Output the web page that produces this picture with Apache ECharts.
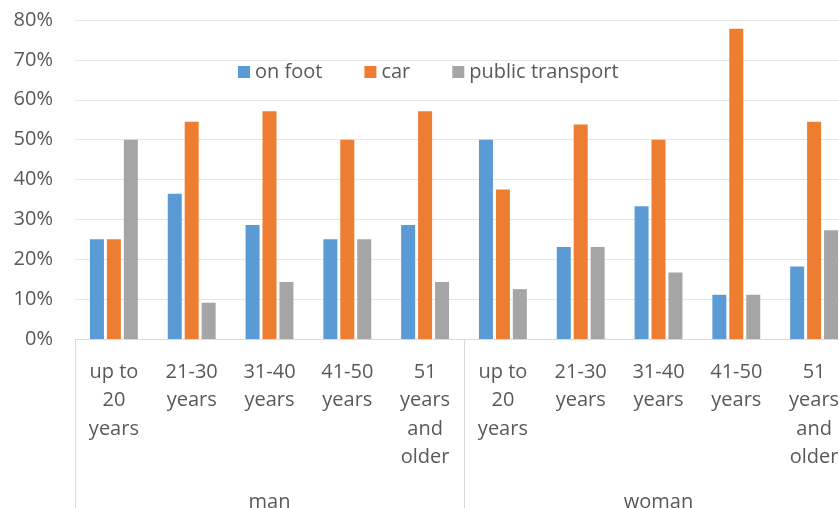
<!DOCTYPE html>
<html>
<head>
<meta charset="utf-8">
<script src="https://cdn.jsdelivr.net/npm/echarts@6/dist/echarts.min.js"></script>
<style>
  html, body { margin: 0; padding: 0; background: #fff; }
  #main { width: 839px; height: 508px; }
</style>
</head>
<body>
<div id="main"></div>
<script>
// age groups, repeated for man / woman
var ageGroups = ['up to\n20\nyears', '21-30\nyears', '31-40\nyears', '41-50\nyears', '51\nyears\nand\nolder',
                 'up to\n20\nyears', '21-30\nyears', '31-40\nyears', '41-50\nyears', '51\nyears\nand\nolder'];
var genders = ['man', 'woman'];
var seriesNames = ['on foot', 'car', 'public transport'];

// percent values
var onFoot = [25, 36.4, 28.6, 25, 28.6, 50, 23.1, 33.3, 11.1, 18.2];
var car = [25, 54.5, 57.1, 50, 57.1, 37.5, 53.8, 50, 77.8, 54.5];
var publicTransport = [50, 9.1, 14.3, 25, 14.3, 12.5, 23.1, 16.7, 11.1, 27.3];

var colors = ['#5B9BD5', '#ED7D31', '#A5A5A5'];
var textColor = '#595959';
var fontFam = '"Open Sans", "Noto Sans", sans-serif';

var myChart = echarts.init(document.getElementById('main'));

function barSeries(name, data, idx) {
    return {
        name: name,
        type: 'bar',
        xAxisIndex: 0,
        barWidth: 14,
        barGap: '21%',
        itemStyle: { color: colors[idx] },
        data: data
    };
}

var option = {
    backgroundColor: '#fff',
    animation: false,
    textStyle: { fontFamily: fontFam },
    legend: {
        data: seriesNames,
        left: 233,
        top: 57,
        icon: 'rect',
        itemWidth: 12,
        itemHeight: 12,
        itemGap: 42,
        textStyle: { fontSize: 20, color: textColor, fontFamily: fontFam }
    },
    grid: {
        left: 75,
        top: 20,
        right: -14,
        height: 319,
        outerBoundsMode: 'none'
    },
    xAxis: [{
        type: 'category',
        data: ageGroups,
        axisLine: { lineStyle: { color: '#D9D9D9' } },
        axisTick: { show: false },
        axisLabel: {
            interval: 0,
            margin: 19,
            fontSize: 20,
            lineHeight: 28.5,
            color: textColor,
            fontFamily: fontFam
        }
    }, {
        type: 'category',
        data: genders,
        position: 'bottom',
        axisLine: { show: false },
        axisTick: {
            show: true,
            interval: 0,
            length: 170,
            lineStyle: { color: '#D9D9D9' }
        },
        axisLabel: {
            margin: 153,
            fontSize: 20,
            color: textColor,
            fontFamily: fontFam
        }
    }],
    yAxis: {
        type: 'value',
        min: 0,
        max: 80,
        interval: 10,
        axisLine: { show: false },
        axisTick: { show: false },
        axisLabel: {
            formatter: '{value}%',
            margin: 22,
            fontSize: 20,
            color: textColor,
            fontFamily: fontFam
        },
        splitLine: { lineStyle: { color: '#E6E6E6' } }
    },
    series: [
        barSeries(seriesNames[0], onFoot, 0),
        barSeries(seriesNames[1], car, 1),
        barSeries(seriesNames[2], publicTransport, 2)
    ]
};
myChart.setOption(option);
</script>
</body>
</html>
